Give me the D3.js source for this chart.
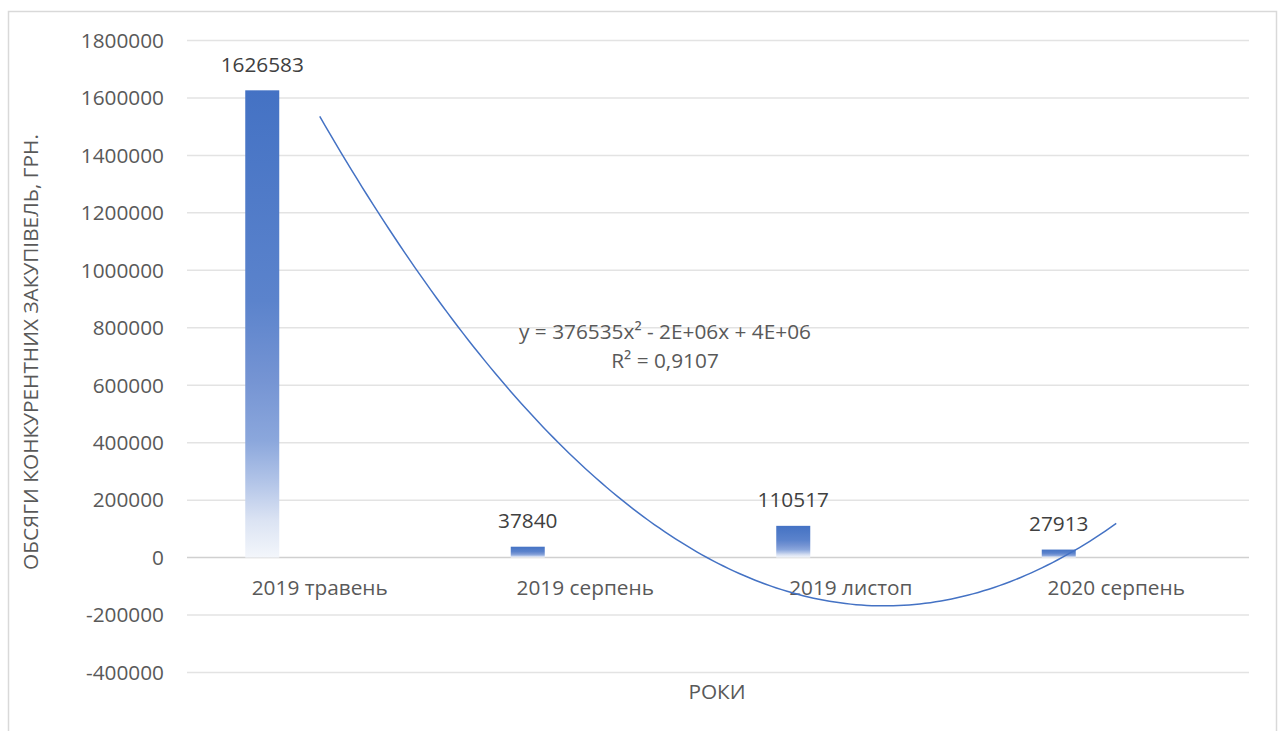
<!DOCTYPE html>
<html><head><meta charset="utf-8">
<script src="https://cdn.jsdelivr.net/npm/d3@7"></script>
<style>
html,body{margin:0;padding:0;background:#fff;}
svg{display:block;font-family:"Open Sans",sans-serif;}
</style></head>
<body>
<svg id="chart" width="1284" height="731"></svg>
<script>
const categories = ["2019 травень", "2019 серпень", "2019 листоп", "2020 серпень"];
const values = [1626583, 37840, 110517, 27913];
const yTicks = [-400000, -200000, 0, 200000, 400000, 600000, 800000, 1000000, 1200000, 1400000, 1600000, 1800000];
const equationText = "y = 376535x² - 2E+06x + 4E+06";
const r2Text = "R² = 0,9107";
const yTitle = "ОБСЯГИ КОНКУРЕНТНИХ ЗАКУПІВЕЛЬ, ГРН.";
const xTitle = "РОКИ";

(function () {
const svg = d3.select("#chart");
const pLeft = 187, pRight = 1249, pTop = 40.5, pBottom = 672.5;
const fs = 20.8;

// frame
svg.append("rect").attr("x", 8.5).attr("y", 11.5).attr("width", 1268).attr("height", 740)
  .attr("fill", "#fff").attr("stroke", "#d9d9d9").attr("stroke-width", 1.5);

const y = d3.scaleLinear().domain([-400000, 1800000]).range([pBottom, pTop]);
const x = d3.scaleBand().domain(categories).range([pLeft, pRight]).padding(0);

// gradient
const defs = svg.append("defs");
const grad = defs.append("linearGradient").attr("id", "barGrad")
  .attr("x1", 0).attr("y1", 0).attr("x2", 0).attr("y2", 1);
[[0, "#4472C4"], [0.45, "#5b83cc"], [0.62, "#7594d3"], [0.75, "#8ba7dc"], [0.84, "#b3c5e8"], [0.92, "#dbe3f3"], [1, "#f3f6fb"]]
  .forEach(([o, c]) => grad.append("stop").attr("offset", o).attr("stop-color", c));

// gridlines
svg.append("g").selectAll("line").data(yTicks).join("line")
  .attr("x1", pLeft).attr("x2", pRight)
  .attr("y1", d => y(d)).attr("y2", d => y(d))
  .attr("stroke", d => d === 0 ? "#d0d0d0" : "#e3e3e3")
  .attr("stroke-width", 1.5);

// y tick labels
svg.append("g").selectAll("text").data(yTicks).join("text")
  .attr("x", 164).attr("y", d => y(d)).attr("dy", "0.35em")
  .attr("text-anchor", "end").attr("fill", "#595959").attr("font-size", fs)
  .text(d => d);

// bars
const barW = 34, barOff = -57.5;
svg.append("g").selectAll("rect").data(values).join("rect")
  .attr("x", (d, i) => x(categories[i]) + x.bandwidth() / 2 + barOff - barW / 2)
  .attr("width", barW)
  .attr("y", d => y(d))
  .attr("height", d => y(0) - y(d))
  .attr("fill", "url(#barGrad)");

// data labels
svg.append("g").selectAll("text").data(values).join("text")
  .attr("x", (d, i) => x(categories[i]) + x.bandwidth() / 2 + barOff)
  .attr("y", d => y(d) - 26).attr("dy", "0.35em")
  .attr("text-anchor", "middle").attr("fill", "#404040").attr("font-size", fs)
  .text(d => d);

// category labels
svg.append("g").selectAll("text").data(categories).join("text")
  .attr("x", d => x(d) + x.bandwidth() / 2)
  .attr("y", 588).attr("dy", "0.35em")
  .attr("text-anchor", "middle").attr("fill", "#595959").attr("font-size", fs)
  .text(d => d);

// polynomial (order 2) least-squares trendline over x = 1..n
const n = values.length;
const xs = values.map((d, i) => i + 1);
const S = k => d3.sum(xs, v => Math.pow(v, k));
const T = k => d3.sum(xs, (v, i) => Math.pow(v, k) * values[i]);
const M = [[S(4), S(3), S(2)], [S(3), S(2), S(1)], [S(2), S(1), n]];
const B = [T(2), T(1), T(0)];
function solve(A, b) {
  const m = A.map((r, i) => [...r, b[i]]);
  for (let c = 0; c < 3; c++) {
    let p = c; for (let r = c + 1; r < 3; r++) if (Math.abs(m[r][c]) > Math.abs(m[p][c])) p = r;
    [m[c], m[p]] = [m[p], m[c]];
    for (let r = 0; r < 3; r++) if (r !== c) {
      const f = m[r][c] / m[c][c];
      for (let k = c; k < 4; k++) m[r][k] -= f * m[c][k];
    }
  }
  return m.map((r, i) => r[3] / r[i]);
}
const [ca, cb, cc] = solve(M, B);
const xi = d3.scaleLinear().domain([1, n]).range([x(categories[0]) + x.bandwidth() / 2, x(categories[n - 1]) + x.bandwidth() / 2]);
const pts = d3.range(1, n + 0.0001, 0.02).map(t => [xi(t), y(ca * t * t + cb * t + cc)]);
svg.append("path").attr("d", d3.line()(pts))
  .attr("fill", "none").attr("stroke", "#4472C4").attr("stroke-width", 1.5);

// equation
svg.append("text").attr("x", 665).attr("y", 332).attr("dy", "0.35em")
  .attr("text-anchor", "middle").attr("fill", "#595959").attr("font-size", fs).text(equationText);
svg.append("text").attr("x", 665).attr("y", 361).attr("dy", "0.35em")
  .attr("text-anchor", "middle").attr("fill", "#595959").attr("font-size", fs).text(r2Text);

// axis titles
svg.append("text").attr("transform", "translate(31,352) rotate(-90)").attr("dy", "0.35em")
  .attr("text-anchor", "middle").attr("fill", "#595959").attr("font-size", fs).text(yTitle);
svg.append("text").attr("x", 717).attr("y", 692).attr("dy", "0.35em")
  .attr("text-anchor", "middle").attr("fill", "#595959").attr("font-size", fs).text(xTitle);
})();
</script>
</body></html>
